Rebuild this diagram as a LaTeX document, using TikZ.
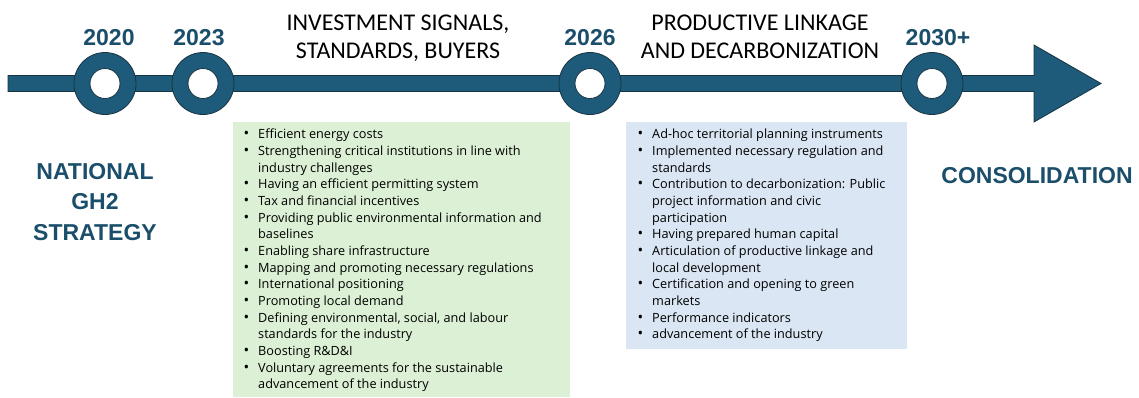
\documentclass[tikz,border=0pt]{standalone}
\usepackage{fontspec}
\setmainfont{Carlito}
\newfontfamily\headfont{Liberation Sans}
\newfontfamily\listfont{Open Sans}
\usepackage{enumitem}
\usetikzlibrary{positioning}
\definecolor{lineblue}{RGB}{30,90,121}
\definecolor{ringedge}{RGB}{24,52,66}
\definecolor{labelblue}{RGB}{27,78,106}
\definecolor{signalgreen}{RGB}{219,240,212}
\definecolor{linkblue}{RGB}{218,230,243}
\setlist[itemize]{label={\fontsize{15}{15}\selectfont\textbullet}, leftmargin=25pt, labelsep=9pt, itemsep=0pt, topsep=0pt, parsep=0pt, partopsep=0pt}
\tikzset{
  ring/.style={circle,draw=ringedge,fill=lineblue,line width=0.8pt,minimum size=62pt,inner sep=0pt},
  hole/.style={circle,draw=ringedge,fill=white,line width=0.8pt,minimum size=30pt,inner sep=0pt},
  year/.style={inner sep=0pt,text=labelblue,font=\headfont\bfseries\fontsize{23}{23}\selectfont},
  phase/.style={inner sep=0pt,align=center,anchor=north,font=\fontsize{24}{28}\selectfont},
  goal/.style={inner sep=0pt,align=center,anchor=north,text=labelblue,font=\headfont\bfseries\fontsize{23}{30.5}\selectfont},
  listbox/.style={anchor=north west,inner xsep=0pt,inner ysep=7pt,font=\listfont\fontsize{12.7}{16.67}\selectfont}
}

\begin{document}
\begin{tikzpicture}[x=1pt,y=-1pt]
  \useasboundingbox (0,0) rectangle (1139,397);
  % timeline bar with its arrow head
  \draw[ringedge,fill=lineblue,line width=0.8pt]
    (8,75.5) -- (1034,75.5) -- (1034,45) -- (1101,83.5) -- (1034,122) -- (1034,91.5) -- (8,91.5) -- cycle;
  \node[ring] (c2020) at (105,83.5) {};
  \node[ring] (c2023) at (203,83.5) {};
  \node[ring] (c2026) at (590,83.5) {};
  \node[ring] (c2030) at (932,83.5) {};
  \node[hole] (h2020) at (c2020) {};
  \node[hole] (h2023) at (c2023) {};
  \node[hole] (h2026) at (c2026) {};
  \node[hole] (h2030) at (c2030) {};
  \node[year, above=6pt of c2020, xshift=4pt] (y2020) {2020};
  \node[year, above=6pt of c2023, xshift=-4pt] (y2023) {2023};
  \node[year, above=6pt of c2026] (y2026) {2026};
  \node[year, above=6pt of c2030, xshift=6pt] (y2030) {2030+};
  \node[phase] (invest) at (398,15) {INVESTMENT SIGNALS,\\STANDARDS, BUYERS};
  \node[phase] (linkage) at (760,15) {PRODUCTIVE LINKAGE\\AND DECARBONIZATION};
  \node[goal] (strategy) at (95,163) {NATIONAL\\GH2\\STRATEGY};
  \node[goal] (consol) at (1037,167) {CONSOLIDATION};
  \node[listbox, fill=signalgreen] (signals) at (233,122) {%
    \begin{minipage}[t][261pt][t]{337pt}\raggedright
    \begin{itemize}
      \item Efficient energy costs
      \item Strengthening critical institutions in line with\\industry challenges
      \item Having an efficient permitting system
      \item Tax and financial incentives
      \item Providing public environmental information and\\baselines
      \item Enabling share infrastructure
      \item Mapping and promoting necessary regulations
      \item International positioning
      \item Promoting local demand
      \item Defining environmental, social, and labour\\standards for the industry
      \item Boosting R\&D\&I
      \item Voluntary agreements for the sustainable\\advancement of the industry
    \end{itemize}
    \end{minipage}};
  \node[listbox, fill=linkblue] (linkage list) at (626,122) {%
    \begin{minipage}[t][213pt][t]{281pt}\raggedright
    \begin{itemize}[leftmargin=26pt]
      \item Ad-hoc territorial planning instruments
      \item Implemented necessary regulation and\\standards
      \item Contribution to decarbonization: Public\\project information and civic\\participation
      \item Having prepared human capital
      \item Articulation of productive linkage and\\local development
      \item Certification and opening to green\\markets
      \item Performance indicators
      \item advancement of the industry
    \end{itemize}
    \end{minipage}};
\end{tikzpicture}
\end{document}
